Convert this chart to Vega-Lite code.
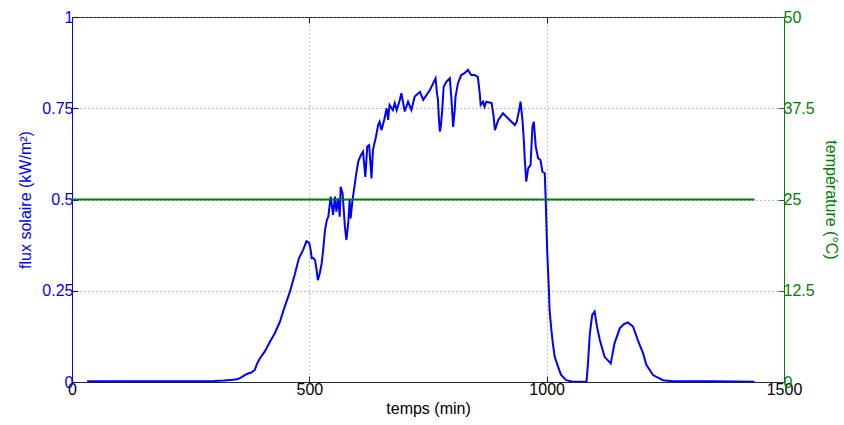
{
  "$schema": "https://vega.github.io/schema/vega-lite/v6.json",
  "autosize": "none",
  "width": 712,
  "height": 365,
  "padding": {"left": 72, "top": 17, "right": 60, "bottom": 43},
  "background": "white",
  "view": {"stroke": "#262626", "strokeWidth": 1},
  "config": {
    "font": "Liberation Sans",
    "axis": {
      "labelFont": "Liberation Sans",
      "titleFont": "Liberation Sans",
      "labelFontSize": 16,
      "titleFontSize": 16,
      "titleFontWeight": "normal",
      "tickSize": -6,
      "labelPadding": 5,
      "labelFlush": false,
      "labelOverlap": false
    }
  },
  "datasets": {
    "flux": [
      {"t": 32, "v": 0.002}, {"t": 100, "v": 0.002}, {"t": 200, "v": 0.002}, {"t": 300, "v": 0.003},
      {"t": 320, "v": 0.004}, {"t": 340, "v": 0.006}, {"t": 350, "v": 0.008}, {"t": 358, "v": 0.014},
      {"t": 364, "v": 0.019}, {"t": 372, "v": 0.024}, {"t": 378, "v": 0.026}, {"t": 385, "v": 0.033},
      {"t": 390, "v": 0.05}, {"t": 396, "v": 0.065}, {"t": 406, "v": 0.083}, {"t": 417, "v": 0.11},
      {"t": 427, "v": 0.133}, {"t": 438, "v": 0.165}, {"t": 448, "v": 0.206}, {"t": 459, "v": 0.247},
      {"t": 469, "v": 0.293}, {"t": 478, "v": 0.339}, {"t": 487, "v": 0.362}, {"t": 494, "v": 0.386},
      {"t": 500, "v": 0.38}, {"t": 503, "v": 0.36}, {"t": 505, "v": 0.339}, {"t": 508, "v": 0.34},
      {"t": 512, "v": 0.334}, {"t": 515, "v": 0.31}, {"t": 518, "v": 0.279}, {"t": 522, "v": 0.298},
      {"t": 526, "v": 0.325}, {"t": 529, "v": 0.36}, {"t": 533, "v": 0.416}, {"t": 537, "v": 0.444},
      {"t": 540, "v": 0.453}, {"t": 545, "v": 0.508}, {"t": 550, "v": 0.458}, {"t": 554, "v": 0.508},
      {"t": 557, "v": 0.467}, {"t": 561, "v": 0.503}, {"t": 564, "v": 0.453}, {"t": 566, "v": 0.535},
      {"t": 570, "v": 0.517}, {"t": 575, "v": 0.425}, {"t": 578, "v": 0.389}, {"t": 582, "v": 0.435},
      {"t": 585, "v": 0.499}, {"t": 587, "v": 0.448}, {"t": 591, "v": 0.499}, {"t": 596, "v": 0.544},
      {"t": 599, "v": 0.572}, {"t": 603, "v": 0.604}, {"t": 608, "v": 0.62}, {"t": 613, "v": 0.631},
      {"t": 618, "v": 0.562}, {"t": 622, "v": 0.645}, {"t": 626, "v": 0.649}, {"t": 631, "v": 0.558},
      {"t": 634, "v": 0.636}, {"t": 640, "v": 0.67}, {"t": 645, "v": 0.704}, {"t": 648, "v": 0.713},
      {"t": 652, "v": 0.69}, {"t": 658, "v": 0.72}, {"t": 663, "v": 0.75}, {"t": 666, "v": 0.718},
      {"t": 669, "v": 0.759}, {"t": 676, "v": 0.745}, {"t": 680, "v": 0.764}, {"t": 684, "v": 0.745},
      {"t": 690, "v": 0.77}, {"t": 694, "v": 0.791}, {"t": 701, "v": 0.741}, {"t": 708, "v": 0.768},
      {"t": 715, "v": 0.745}, {"t": 722, "v": 0.782}, {"t": 733, "v": 0.795}, {"t": 740, "v": 0.773},
      {"t": 754, "v": 0.8}, {"t": 766, "v": 0.832}, {"t": 769, "v": 0.79}, {"t": 771, "v": 0.773},
      {"t": 773, "v": 0.72}, {"t": 775, "v": 0.686}, {"t": 777, "v": 0.7}, {"t": 780, "v": 0.745},
      {"t": 783, "v": 0.809}, {"t": 789, "v": 0.823}, {"t": 796, "v": 0.832}, {"t": 799, "v": 0.782},
      {"t": 801, "v": 0.74}, {"t": 803, "v": 0.699}, {"t": 806, "v": 0.74}, {"t": 808, "v": 0.782},
      {"t": 813, "v": 0.818}, {"t": 820, "v": 0.841}, {"t": 827, "v": 0.846}, {"t": 834, "v": 0.855},
      {"t": 841, "v": 0.841}, {"t": 848, "v": 0.841}, {"t": 855, "v": 0.836}, {"t": 859, "v": 0.791},
      {"t": 861, "v": 0.759}, {"t": 866, "v": 0.768}, {"t": 869, "v": 0.754}, {"t": 873, "v": 0.768},
      {"t": 884, "v": 0.764}, {"t": 888, "v": 0.73}, {"t": 891, "v": 0.69}, {"t": 898, "v": 0.718},
      {"t": 908, "v": 0.736}, {"t": 922, "v": 0.718}, {"t": 933, "v": 0.704}, {"t": 937, "v": 0.713},
      {"t": 942, "v": 0.745}, {"t": 945, "v": 0.768}, {"t": 949, "v": 0.718}, {"t": 952, "v": 0.66},
      {"t": 954, "v": 0.608}, {"t": 957, "v": 0.549}, {"t": 961, "v": 0.585}, {"t": 966, "v": 0.594},
      {"t": 970, "v": 0.699}, {"t": 973, "v": 0.713}, {"t": 977, "v": 0.645}, {"t": 982, "v": 0.613},
      {"t": 987, "v": 0.608}, {"t": 991, "v": 0.576}, {"t": 996, "v": 0.572}, {"t": 998, "v": 0.499},
      {"t": 1001, "v": 0.362}, {"t": 1005, "v": 0.243}, {"t": 1006, "v": 0.2}, {"t": 1008, "v": 0.17},
      {"t": 1010, "v": 0.142}, {"t": 1013, "v": 0.106}, {"t": 1017, "v": 0.069}, {"t": 1024, "v": 0.042},
      {"t": 1030, "v": 0.02}, {"t": 1041, "v": 0.005}, {"t": 1055, "v": 0.001}, {"t": 1084, "v": 0.001},
      {"t": 1087, "v": 0.051}, {"t": 1091, "v": 0.133}, {"t": 1096, "v": 0.184}, {"t": 1101, "v": 0.193},
      {"t": 1106, "v": 0.152}, {"t": 1112, "v": 0.115}, {"t": 1122, "v": 0.069}, {"t": 1135, "v": 0.051},
      {"t": 1143, "v": 0.106}, {"t": 1154, "v": 0.147}, {"t": 1162, "v": 0.158}, {"t": 1171, "v": 0.163},
      {"t": 1182, "v": 0.152}, {"t": 1192, "v": 0.115}, {"t": 1203, "v": 0.079}, {"t": 1210, "v": 0.047},
      {"t": 1224, "v": 0.019}, {"t": 1245, "v": 0.005}, {"t": 1266, "v": 0.002}, {"t": 1350, "v": 0.002},
      {"t": 1438, "v": 0.001}
    ],
    "temp": [
      {"t": 0, "T": 25}, {"t": 1438, "T": 25}
    ]
  },
  "layer": [
    {
      "data": {"name": "flux"},
      "mark": {"type": "line", "color": "#0000ff", "strokeWidth": 2, "clip": true},
      "encoding": {
        "x": {
          "field": "t", "type": "quantitative",
          "scale": {"domain": [0, 1500], "nice": false, "zero": false},
          "axis": {
            "orient": "bottom", "title": "temps (min)", "values": [0, 500, 1000, 1500],
            "labelExpr": "'' + datum.value",
            "labelFontSize": 16, "titleFontSize": 16,
            "labelColor": "black", "titleColor": "black", "domainColor": "#262626", "tickColor": "#262626",
            "grid": true, "gridDash": [1, 3], "gridColor": "#666666", "gridOpacity": 0.8,
            "titlePadding": 3
          }
        },
        "y": {
          "field": "v", "type": "quantitative",
          "scale": {"domain": [0, 1], "nice": false},
          "axis": {
            "orient": "left", "title": "flux solaire (kW/m²)", "values": [0, 0.25, 0.5, 0.75, 1],
            "labelExpr": "'' + datum.value",
            "labelFontSize": 16, "titleFontSize": 16,
            "labelColor": "#0000ff", "titleColor": "#0000ff", "domainColor": "#0000ff", "tickColor": "#0000ff",
            "grid": true, "gridDash": [1, 3], "gridColor": "#6060ff", "gridOpacity": 0.9,
            "titlePadding": 8
          }
        }
      }
    },
    {
      "data": {"name": "temp"},
      "mark": {"type": "line", "color": "#008000", "strokeWidth": 2},
      "encoding": {
        "x": {
          "field": "t", "type": "quantitative",
          "scale": {"domain": [0, 1500], "nice": false, "zero": false},
          "axis": {
            "orient": "top", "title": null, "labels": false, "values": [0, 500, 1000, 1500],
            "domain": false, "grid": false, "tickColor": "#262626"
          }
        },
        "y": {
          "field": "T", "type": "quantitative",
          "scale": {"domain": [0, 50], "nice": false},
          "axis": {
            "orient": "right", "title": "température (°C)", "values": [0, 12.5, 25, 37.5, 50],
            "labelExpr": "'' + datum.value",
            "labelFontSize": 16, "titleFontSize": 16,
            "labelColor": "#008000", "titleColor": "#008000", "domainColor": "#008000", "tickColor": "#008000",
            "grid": false, "titlePadding": 8
          }
        }
      }
    }
  ],
  "resolve": {"scale": {"y": "independent"}, "axis": {"x": "independent", "y": "independent"}}
}
